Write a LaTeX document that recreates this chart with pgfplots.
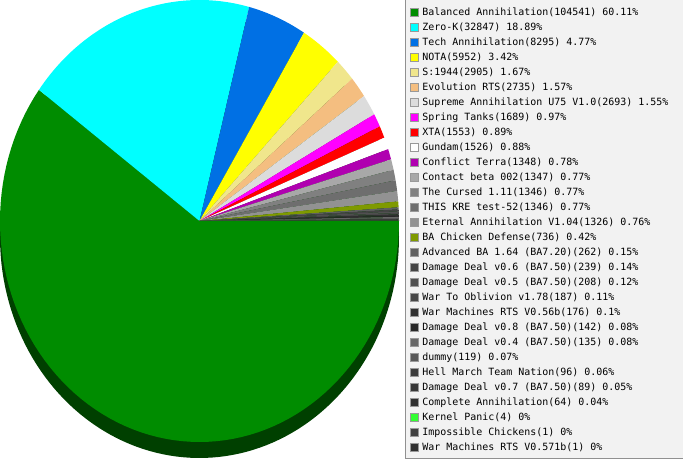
\documentclass[border=0pt]{standalone}
\usepackage{pgfplots}
\pgfplotsset{compat=1.18}
\usepackage{fontspec}
\newfontfamily\legendfont{DejaVu Sans Mono}

\definecolor{c1}{HTML}{008C00}
\definecolor{c2}{HTML}{00FFFF}
\definecolor{c3}{HTML}{0070E4}
\definecolor{c4}{HTML}{FFFF00}
\definecolor{c5}{HTML}{F0E68C}
\definecolor{c6}{HTML}{F4BE80}
\definecolor{c7}{HTML}{DCDCDC}
\definecolor{c8}{HTML}{FF00FF}
\definecolor{c9}{HTML}{FF0000}
\definecolor{c10}{HTML}{FFFFFF}
\definecolor{c11}{HTML}{B000B0}
\definecolor{c12}{HTML}{A8A8A8}
\definecolor{c13}{HTML}{808080}
\definecolor{c14}{HTML}{6E6E6E}
\definecolor{c15}{HTML}{929292}
\definecolor{c16}{HTML}{7F9A00}
\definecolor{c17}{HTML}{606060}
\definecolor{c18}{HTML}{444444}
\definecolor{c19}{HTML}{505050}
\definecolor{c20}{HTML}{484848}
\definecolor{c21}{HTML}{303030}
\definecolor{c22}{HTML}{282828}
\definecolor{c23}{HTML}{686868}
\definecolor{c24}{HTML}{585858}
\definecolor{c25}{HTML}{3C3C3C}
\definecolor{c26}{HTML}{383838}
\definecolor{c27}{HTML}{303030}
\definecolor{c28}{HTML}{33FF33}
\definecolor{c29}{HTML}{404040}
\definecolor{c30}{HTML}{303030}
\definecolor{sidegreen}{HTML}{004000}
\definecolor{legbg}{HTML}{F2F2F2}
\definecolor{legborder}{HTML}{909090}

\newcount\cumul
\def\total{173908}
% #1 value, #2 colour, #3 legend text
\newcommand\slice[3]{%
  \edef\angA{\fpeval{round(-360*\the\cumul/\total,4)}}%
  \global\advance\cumul by #1\relax
  \edef\angB{\fpeval{round(-360*\the\cumul/\total,4)}}%
  \edef\doplot{\noexpand\addplot[fill=#2, draw=none, domain=\angB:\angA, samples=90]
    ({199.5+199.5*cos(x)},{239+221*sin(x)}) -- (axis cs:199.5,239) -- cycle;}%
  \doplot
  \addlegendentry{#3}%
}

\begin{document}
\begin{tikzpicture}
\useasboundingbox (0,0) rectangle (683bp,460bp);
\global\cumul=0
\begin{axis}[
  scale only axis, width=683bp, height=460bp,
  xmin=0, xmax=683, ymin=0, ymax=460,
  hide axis,
  legend cell align=left,
  legend image code/.code={\draw[#1, draw=black!40, line width=0.9bp] (0.45bp,-3.8bp) rectangle (8.45bp,4.2bp);},
  legend style={at={(axis cs:409.5,455.2)}, anchor=north west, draw=none, fill=none,
    inner sep=0pt, outer sep=0pt, row sep=0pt,
    font=\legendfont\fontsize{9.97bp}{15bp}\selectfont,
    nodes={inner sep=0pt, text height=11.15bp, text depth=3.85bp},
    /tikz/every odd column/.style={column sep=4bp}},
]
\draw[fill=legbg, draw=legborder, line width=1bp] (axis cs:405.5,2) rectangle (axis cs:700,470);
\addplot[fill=sidegreen, draw=none, domain=0:360, samples=180, forget plot]
  ({199.5+199.5*cos(x)},{223+221*sin(x)});
\slice{104541}{c1}{Balanced Annihilation(104541) 60.11\%}
\slice{32847}{c2}{Zero-K(32847) 18.89\%}
\slice{8295}{c3}{Tech Annihilation(8295) 4.77\%}
\slice{5952}{c4}{NOTA(5952) 3.42\%}
\slice{2905}{c5}{S:1944(2905) 1.67\%}
\slice{2735}{c6}{Evolution RTS(2735) 1.57\%}
\slice{2693}{c7}{Supreme Annihilation U75 V1.0(2693) 1.55\%}
\slice{1689}{c8}{Spring Tanks(1689) 0.97\%}
\slice{1553}{c9}{XTA(1553) 0.89\%}
\slice{1526}{c10}{Gundam(1526) 0.88\%}
\slice{1348}{c11}{Conflict Terra(1348) 0.78\%}
\slice{1347}{c12}{Contact beta 002(1347) 0.77\%}
\slice{1346}{c13}{The Cursed 1.11(1346) 0.77\%}
\slice{1346}{c14}{THIS KRE test-52(1346) 0.77\%}
\slice{1326}{c15}{Eternal Annihilation V1.04(1326) 0.76\%}
\slice{736}{c16}{BA Chicken Defense(736) 0.42\%}
\slice{262}{c17}{Advanced BA 1.64 (BA7.20)(262) 0.15\%}
\slice{239}{c18}{Damage Deal v0.6 (BA7.50)(239) 0.14\%}
\slice{208}{c19}{Damage Deal v0.5 (BA7.50)(208) 0.12\%}
\slice{187}{c20}{War To Oblivion v1.78(187) 0.11\%}
\slice{176}{c21}{War Machines RTS V0.56b(176) 0.1\%}
\slice{142}{c22}{Damage Deal v0.8 (BA7.50)(142) 0.08\%}
\slice{135}{c23}{Damage Deal v0.4 (BA7.50)(135) 0.08\%}
\slice{119}{c24}{dummy(119) 0.07\%}
\slice{96}{c25}{Hell March Team Nation(96) 0.06\%}
\slice{89}{c26}{Damage Deal v0.7 (BA7.50)(89) 0.05\%}
\slice{64}{c27}{Complete Annihilation(64) 0.04\%}
\slice{4}{c28}{Kernel Panic(4) 0\%}
\slice{1}{c29}{Impossible Chickens(1) 0\%}
\slice{1}{c30}{War Machines RTS V0.571b(1) 0\%}
\end{axis}
\end{tikzpicture}
\end{document}
